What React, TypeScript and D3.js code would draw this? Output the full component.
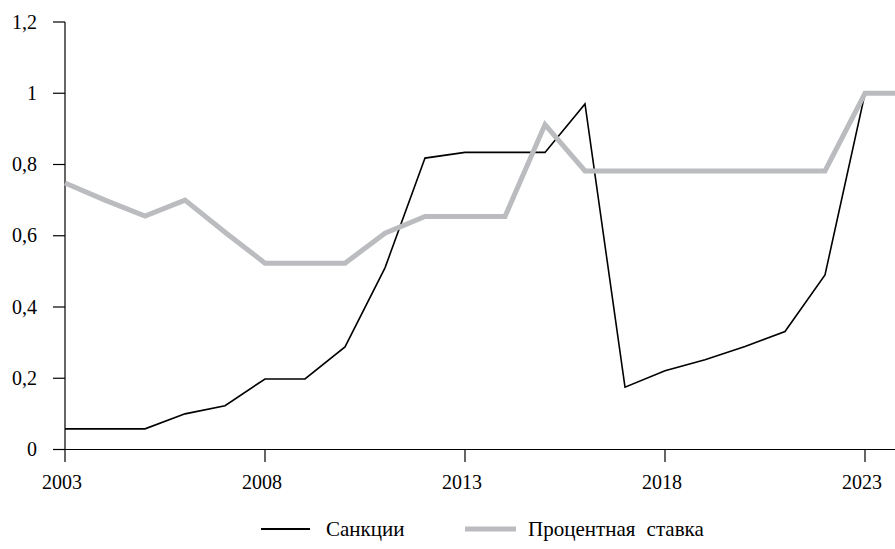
import React from "react";
import * as d3 from "d3";

const years: number[] = [
  2003, 2004, 2005, 2006, 2007, 2008, 2009, 2010, 2011, 2012, 2013, 2014,
  2015, 2016, 2017, 2018, 2019, 2020, 2021, 2022, 2023, 2024,
];
const sanctions: number[] = [
  0.058, 0.058, 0.058, 0.1, 0.123, 0.198, 0.198, 0.288, 0.51, 0.818, 0.834,
  0.834, 0.834, 0.97, 0.175, 0.221, 0.252, 0.289, 0.331, 0.49, 1.0, 1.0,
];
const rate: number[] = [
  0.748, 0.7, 0.655, 0.7, 0.61, 0.523, 0.523, 0.523, 0.607, 0.654, 0.654,
  0.654, 0.912, 0.782, 0.782, 0.782, 0.782, 0.782, 0.782, 0.782, 1.0, 1.0,
];
const xTicks: number[] = [2003, 2008, 2013, 2018, 2023];
const yTicks: number[] = [0, 0.2, 0.4, 0.6, 0.8, 1, 1.2];
const seriesNames: string[] = ["Санкции", "Процентная ставка"];

const width = 895;
const height = 549;
const font = "Liberation Serif";
const grey = "#bbbcbf";

const App: React.FC = () => {
  const x = d3.scaleLinear().domain([2003, 2024]).range([65, 905]);
  const y = d3.scaleLinear().domain([0, 1.2]).range([449.5, 22]);

  const line = (vals: number[]) =>
    d3
      .line<number>()
      .x((_, i) => x(years[i]))
      .y((d) => y(d))(vals) || "";

  const fmt = (v: number) => String(+v.toFixed(1)).replace(".", ",");

  return (
    <svg
      width={width}
      height={height}
      style={{ position: "absolute", left: 0, top: 0, background: "#fff" }}
    >
      {/* y axis */}
      <line x1={65} x2={65} y1={y(1.2)} y2={y(0)} stroke="#000" strokeWidth={1.2} />
      {yTicks.map((t) => (
        <g key={t}>
          <line x1={53} x2={65} y1={y(t)} y2={y(t)} stroke="#000" strokeWidth={1.2} />
          <text
            x={37}
            y={y(t)}
            dy="0.33em"
            textAnchor="end"
            fontFamily={font}
            fontSize={20}
            fill="#000"
          >
            {fmt(t)}
          </text>
        </g>
      ))}
      {/* x axis */}
      <line x1={65} x2={width} y1={y(0)} y2={y(0)} stroke="#000" strokeWidth={1.2} />
      {xTicks.map((t) => (
        <g key={t}>
          <line x1={x(t)} x2={x(t)} y1={y(0)} y2={462} stroke="#000" strokeWidth={1.2} />
          <text
            x={x(t) - 3}
            y={489}
            textAnchor="middle"
            fontFamily={font}
            fontSize={20}
            fill="#000"
          >
            {t}
          </text>
        </g>
      ))}
      {/* series */}
      <path d={line(sanctions)} fill="none" stroke="#000" strokeWidth={1.6} />
      <path d={line(rate)} fill="none" stroke={grey} strokeWidth={5} />
      {/* legend */}
      <line x1={261} x2={310} y1={529} y2={529} stroke="#000" strokeWidth={2} />
      <text x={326} y={529} dy="0.33em" fontFamily={font} fontSize={21}>
        {seriesNames[0]}
      </text>
      <line x1={465} x2={516} y1={529} y2={529} stroke={grey} strokeWidth={5} />
      <text
        x={528}
        y={529}
        dy="0.33em"
        fontFamily={font}
        fontSize={21}
        wordSpacing={6}
      >
        {seriesNames[1]}
      </text>
    </svg>
  );
};

export default App;
